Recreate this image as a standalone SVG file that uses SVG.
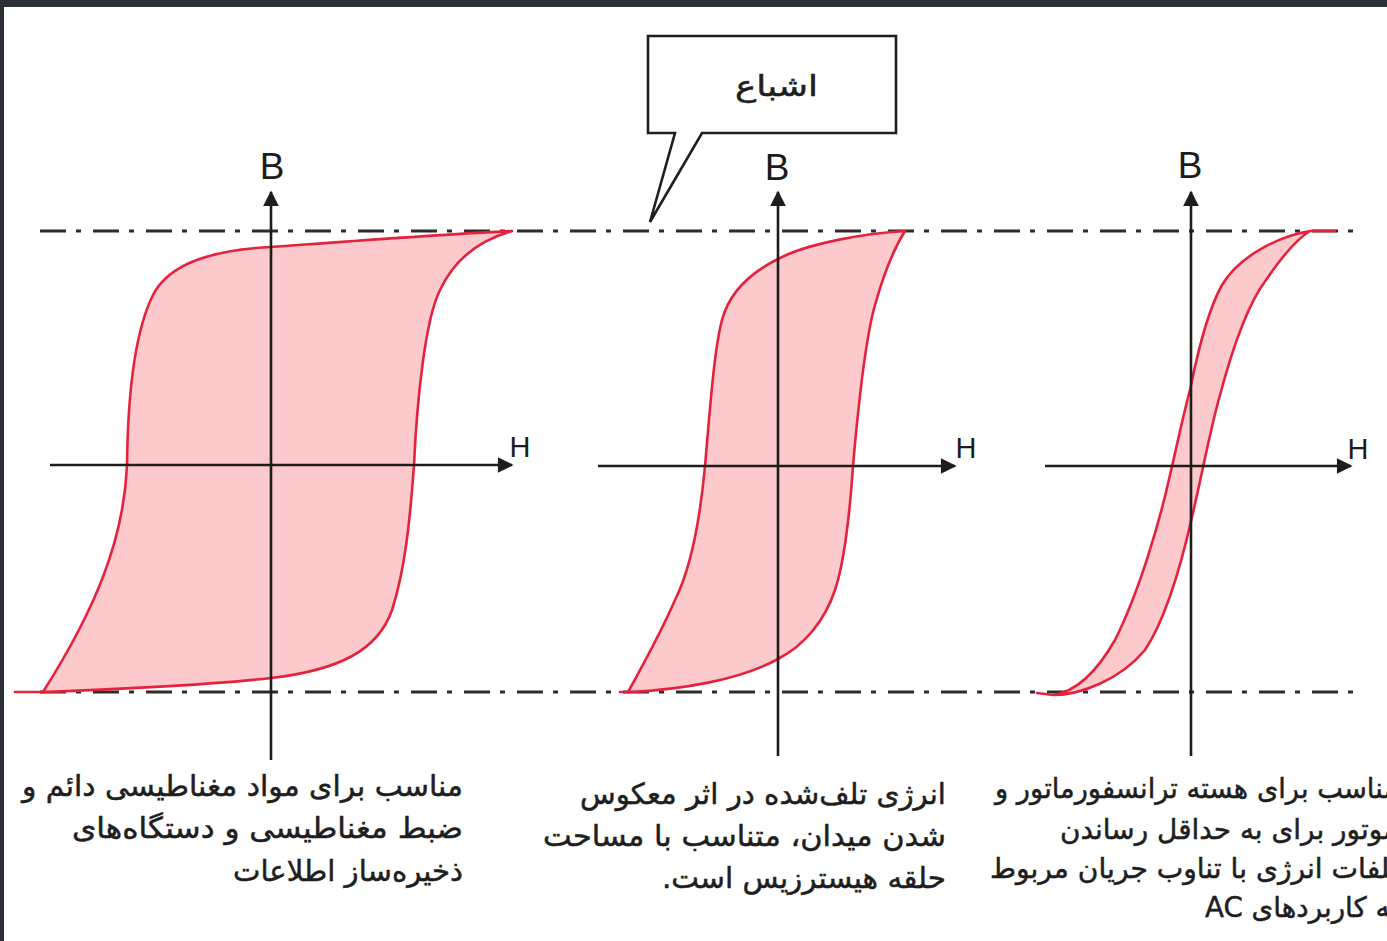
<svg xmlns="http://www.w3.org/2000/svg" width="1387" height="941" viewBox="0 0 1387 941">
<style>
.frame{fill:#2b2f36}
.paper{fill:#ffffff}
.sat{fill:none;stroke:#2e2b28;stroke-width:3;stroke-dasharray:26 10 5 12}
.axis{fill:none;stroke:#1f1c1a;stroke-width:2.6}
.loop{fill:#fcc9cc;stroke:#e5223d;stroke-width:2.6;stroke-linejoin:round}
.lbl{font-family:"Liberation Sans",Arial,sans-serif;fill:#1c1c1c}
.fa{font-family:"DejaVu Sans","Noto Sans",sans-serif;fill:#1e1e1e;font-size:29px;stroke:#1e1e1e;stroke-width:0.5}
.fa3{font-size:28px}
.box{fill:#ffffff;stroke:#1e1e1e;stroke-width:2.6;stroke-linejoin:miter}
</style>
<defs>
<marker id="arr" viewBox="0 0 10 10" refX="9" refY="5" markerWidth="7" markerHeight="6" markerUnits="strokeWidth" orient="auto">
<path d="M0,0 L10,5 L0,10 Z" fill="#1f1c1a"/>
</marker>
</defs>
<rect class="frame" x="0" y="0" width="1387" height="941"/>
<rect class="paper" x="4" y="7" width="1383" height="934"/>

<g id="saturation-lines">
<line class="sat" x1="40" y1="231" x2="1358" y2="231"/>
<line class="sat" x1="40" y1="692" x2="1358" y2="692"/>
</g>

<g id="loop-hard">
<path class="loop" d="M512,231 C430,235 340,242 271,247 C215,250 170,262 153,295 C138,325 128,380 127,465 C124,540 95,610 43,692 L15,692 L43,692 C120,689 220,684 271,678 C340,670 378,650 392,610 C405,570 410,520 414,465 C417,400 425,320 440,290 C455,258 480,240 512,231 Z"/>
</g>
<g id="loop-medium">
<path class="loop" d="M905,231 C870,233 810,242 778,259 C752,272 730,290 722,320 C714,350 710,410 705,466 C700,520 690,570 675,600 C660,635 640,670 628,692 L620,692 L628,692 C680,690 740,680 778,659 C805,645 825,620 835,590 C845,560 850,510 853,466 C857,420 865,340 875,305 C882,280 893,250 905,231 Z"/>
</g>
<g id="loop-soft">
<path class="loop" d="M1310,231 C1280,236 1240,255 1222,285 C1208,310 1198,350 1190,390 C1182,420 1176,450 1170,475 C1160,520 1140,590 1115,640 C1095,675 1075,692 1053,695 L1037,693 L1053,695 C1080,695 1120,680 1145,650 C1165,620 1180,570 1192,517 C1202,475 1210,430 1220,395 C1232,350 1247,305 1266,280 C1281,258 1295,240 1310,231 L1335,231 L1310,231 Z"/>
</g>

<g id="connectors">
<line class="axis" x1="271" y1="760" x2="271" y2="192" marker-end="url(#arr)"/>
<line class="axis" x1="50" y1="465" x2="512" y2="465" marker-end="url(#arr)"/>
<line class="axis" x1="778" y1="756" x2="778" y2="192" marker-end="url(#arr)"/>
<line class="axis" x1="598" y1="466" x2="955" y2="466" marker-end="url(#arr)"/>
<line class="axis" x1="1191" y1="756" x2="1191" y2="192" marker-end="url(#arr)"/>
<line class="axis" x1="1045" y1="466" x2="1351" y2="466" marker-end="url(#arr)"/>
</g>

<g id="axis-labels">
<text class="lbl" x="272" y="179" font-size="37" text-anchor="middle">B</text>
<text class="lbl" x="520" y="457" font-size="29" text-anchor="middle">H</text>
<text class="lbl" x="777" y="180" font-size="37" text-anchor="middle">B</text>
<text class="lbl" x="966" y="458" font-size="29" text-anchor="middle">H</text>
<text class="lbl" x="1190" y="178" font-size="37" text-anchor="middle">B</text>
<text class="lbl" x="1358" y="459" font-size="29" text-anchor="middle">H</text>
</g>

<g id="callout">
<path class="box" d="M675,133 L648,133 L648,36 L896,36 L896,133 L702,133 L650,222 Z"/>
<text class="fa" x="818" y="96" font-size="34" direction="rtl" text-anchor="start" textLength="83" lengthAdjust="spacingAndGlyphs">اشباع</text>
</g>

<g id="caption-hard">
<text class="fa" direction="rtl" text-anchor="start" x="463" y="796" textLength="441" lengthAdjust="spacingAndGlyphs">مناسب برای مواد مغناطیسی دائم و</text>
<text class="fa" direction="rtl" text-anchor="start" x="463" y="838" textLength="391" lengthAdjust="spacingAndGlyphs">ضبط مغناطیسی و دستگاه‌های</text>
<text class="fa" direction="rtl" text-anchor="start" x="463" y="881" textLength="230" lengthAdjust="spacingAndGlyphs">ذخیره‌ساز اطلاعات</text>
</g>
<g id="caption-medium">
<text class="fa" direction="rtl" text-anchor="start" x="946" y="804" textLength="366" lengthAdjust="spacingAndGlyphs">انرژی تلف‌شده در اثر معکوس</text>
<text class="fa" direction="rtl" text-anchor="start" x="946" y="846" textLength="403" lengthAdjust="spacingAndGlyphs">شدن میدان، متناسب با مساحت</text>
<text class="fa" direction="rtl" text-anchor="start" x="946" y="888" textLength="284" lengthAdjust="spacingAndGlyphs">حلقه هیسترزیس است.</text>
</g>
<g id="caption-soft">
<text class="fa fa3" direction="rtl" text-anchor="start" x="1398" y="798" textLength="403" lengthAdjust="spacingAndGlyphs">مناسب برای هسته ترانسفورماتور و</text>
<text class="fa fa3" direction="rtl" text-anchor="start" x="1398" y="839" textLength="338" lengthAdjust="spacingAndGlyphs">موتور برای به حداقل رساندن</text>
<text class="fa fa3" direction="rtl" text-anchor="start" x="1398" y="878" textLength="408" lengthAdjust="spacingAndGlyphs">تلفات انرژی با تناوب جریان مربوط</text>
<text class="fa fa3" direction="rtl" text-anchor="start" x="1398" y="917" textLength="193" lengthAdjust="spacingAndGlyphs">به کاربردهای AC</text>
</g>
</svg>
